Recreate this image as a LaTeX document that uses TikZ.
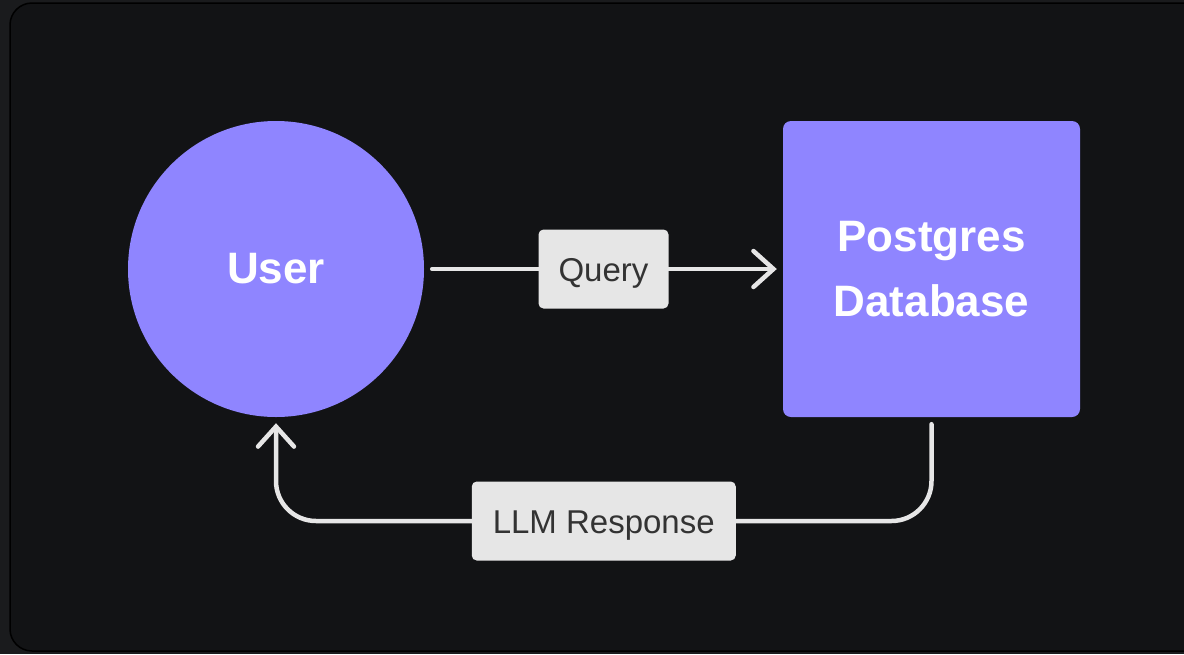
\documentclass[tikz,border=0pt]{standalone}
\usepackage{fontspec}
\setmainfont{Liberation Sans}
\usetikzlibrary{arrows.meta}

\definecolor{outerbg}{HTML}{1A1B1D}
\definecolor{panelbg}{HTML}{121315}
\definecolor{violet}{HTML}{8F85FF}
\definecolor{wire}{HTML}{E6E6E6}
\definecolor{tagfill}{HTML}{E6E6E6}
\definecolor{tagtext}{HTML}{333333}

\tikzstyle{actor}=[circle,fill=violet,minimum size=296pt,inner sep=0pt,text=white,font=\fontsize{44}{52}\selectfont\bfseries]
\tikzstyle{store}=[rectangle,rounded corners=8pt,fill=violet,minimum width=297pt,minimum height=296pt,inner sep=0pt,text=white,align=center,font=\fontsize{44}{65}\selectfont\bfseries]
\tikzstyle{tag}=[rectangle,rounded corners=5pt,fill=tagfill,text=tagtext,inner xsep=0pt,minimum height=79pt,text height=24pt,text depth=0pt,font=\fontsize{33}{38}\selectfont]
\tikzstyle{flow}=[draw=wire,line width=4.5pt,line cap=round,line join=round,-{Straight Barb[length=20pt,width=36pt,line cap=round]}]
\newcommand{\bendr}{40pt}

\begin{document}
\begin{tikzpicture}[x=1pt,y=-1pt]
    % background and panel
    \fill[outerbg] (0,0) rectangle (1184,654);
    \useasboundingbox (0,0) rectangle (1184,654);
    \filldraw[fill=panelbg,draw=black,line width=1.5pt,rounded corners=22pt] (10,3) rectangle (1220,651);
    % the two parties
    \node[actor] (user) at (276,269) {User};
    \node[store] (db) at (931.5,269) {Postgres\\Database};
    \coordinate (low) at (0,521);
    % request and answer
    \path[flow, shorten <=8pt, shorten >=6pt] (user) -- node[tag, minimum width=130pt] (query) {Query} (db);
    \path[flow, rounded corners=\bendr, shorten <=7pt, shorten >=6pt]
        (db.south) -- (db.south |- low) -- node[tag, minimum width=264pt] (answer) {LLM Response} (user.south |- low) -- (user.south);
\end{tikzpicture}
\end{document}
